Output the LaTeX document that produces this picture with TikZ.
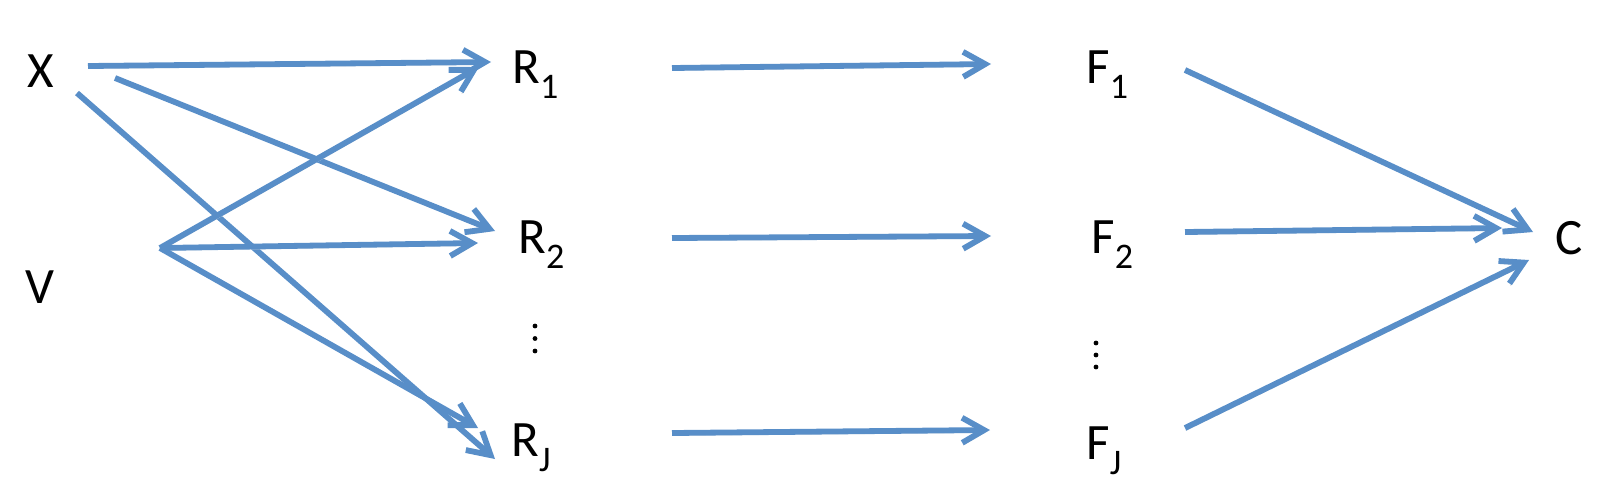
\documentclass[tikz,border=0pt]{standalone}
\usepackage{fontspec}
\setmainfont{Carlito}
\usetikzlibrary{arrows.meta}
\definecolor{arrowblue}{RGB}{88,142,200}
\newcommand{\lbl}[2]{#1\raisebox{-7.5pt}{\fontsize{18}{18}\selectfont #2}}
\begin{document}
\begin{tikzpicture}[x=0.5pt,y=-0.5pt,
  lab/.style={anchor=base west,inner sep=0pt,font=\fontsize{25.5}{30}\selectfont,text=black},
  dot/.style={circle,fill=black,inner sep=0pt,minimum size=2.4pt},
  arr/.style={draw=arrowblue,line width=2.9pt,
    -{Straight Barb[length=11pt,width=12.5pt]},
    preaction={draw=black!10,transform canvas={xshift=0.4pt,yshift=-1.2pt}}}]
\useasboundingbox (0,0) rectangle (1598,488);
% labels
\node[lab] (X) at (27,87) {X};
\node[lab] (V) at (25,303) {V};
\node[lab] (R1) at (512,83) {\lbl{R}{1}};
\node[lab] (R2) at (518,253) {\lbl{R}{2}};
\node[lab] (RJ) at (511,456) {\lbl{R}{J}};
\node[lab] (F1) at (1086,83) {\lbl{F}{1}};
\node[lab] (F2) at (1091,253) {\lbl{F}{2}};
\node[lab] (FJ) at (1086,459) {\lbl{F}{J}};
\node[lab] (C) at (1555,254) {C};
% vertical ellipses
\node[dot] (Rd1) at (535,326) {};
\node[dot] (Rd2) at (535,338.5) {};
\node[dot] (Rd3) at (535,351) {};
\node[dot] (Fd1) at (1096,343) {};
\node[dot] (Fd2) at (1096,355) {};
\node[dot] (Fd3) at (1096,367) {};
% connector ends
\coordinate (xo1) at (88,66);
\coordinate (xo2) at (115,78);
\coordinate (xo3) at (77,93);
\coordinate (vo) at (160,248);
\coordinate (r1a) at (491,62);
\coordinate (r1b) at (479,67);
\coordinate (r2a) at (495,231);
\coordinate (r2b) at (478,243);
\coordinate (rja) at (495,459);
\coordinate (rjb) at (478,428);
\coordinate (r1o) at (672,68);
\coordinate (r2o) at (672,238);
\coordinate (rjo) at (672,433);
\coordinate (f1i) at (991,64);
\coordinate (f2i) at (991,236);
\coordinate (fji) at (990,430);
\coordinate (f1o) at (1185,70);
\coordinate (f2o) at (1185,232);
\coordinate (fjo) at (1185,428);
\coordinate (c1) at (1533,232);
\coordinate (c2) at (1502,228);
\coordinate (cj) at (1529,260);
% connectors
\draw[arr] (xo1) -- (r1a);
\draw[arr] (xo2) -- (r2a);
\draw[arr] (xo3) -- (rja);
\draw[arr] (vo) -- (r1b);
\draw[arr] (vo) -- (r2b);
\draw[arr] (vo) -- (rjb);
\draw[arr] (r1o) -- (f1i);
\draw[arr] (r2o) -- (f2i);
\draw[arr] (rjo) -- (fji);
\draw[arr] (f1o) -- (c1);
\draw[arr] (f2o) -- (c2);
\draw[arr] (fjo) -- (cj);
\end{tikzpicture}
\end{document}
